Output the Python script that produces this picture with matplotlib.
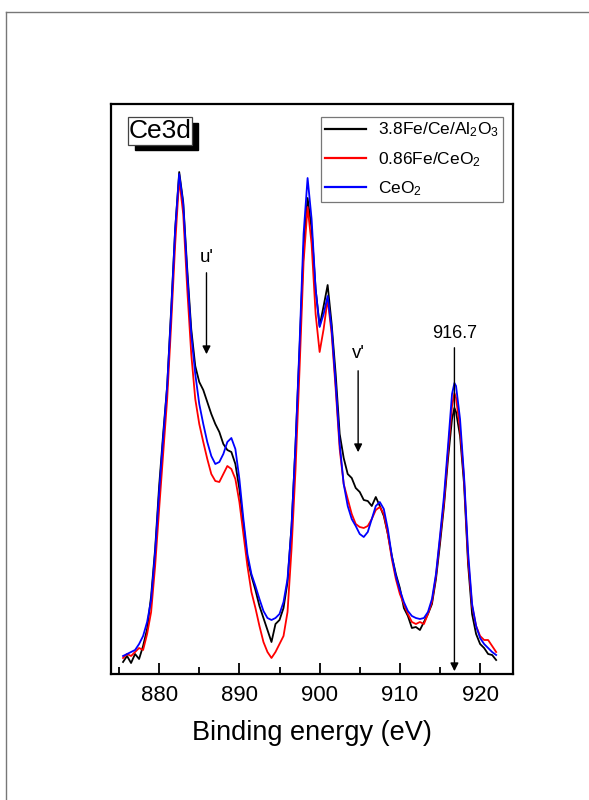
import matplotlib
matplotlib.use("Agg")
import matplotlib.pyplot as plt
from matplotlib.patches import Rectangle
from matplotlib.lines import Line2D

plt.rcParams['font.family'] = ['Liberation Sans', 'DejaVu Sans']
plt.rcParams['mathtext.fontset'] = 'custom'
plt.rcParams['mathtext.rm'] = 'Liberation Sans'
plt.rcParams['mathtext.it'] = 'Liberation Sans'

# ---------------- data ----------------
energy = [875.5, 876.0, 876.5, 877.0, 877.5, 878.0, 878.5, 879.0, 879.5, 880.0,
          880.5, 881.0, 881.5, 882.0, 882.5, 883.0, 883.5, 884.0, 884.5, 885.0,
          885.5, 886.0, 886.5, 887.0, 887.5, 888.0, 888.5, 889.0, 889.5, 890.0,
          890.5, 891.0, 891.5, 892.0, 892.5, 893.0, 893.5, 894.0, 894.5, 895.0,
          895.5, 896.0, 896.5, 897.0, 897.5, 898.0, 898.5, 899.0, 899.5, 900.0,
          900.5, 901.0, 901.5, 902.0, 902.5, 903.0, 903.5, 904.0, 904.5, 905.0,
          905.5, 906.0, 906.5, 907.0, 907.5, 908.0, 908.5, 909.0, 909.5, 910.0,
          910.5, 911.0, 911.5, 912.0, 912.5, 913.0, 913.5, 914.0, 914.5, 915.0,
          915.5, 916.0, 916.5, 916.8, 917.0, 917.5, 918.0, 918.5, 919.0, 919.5,
          920.0, 920.5, 921.0, 921.5, 922.0]

fe_ce_al2o3 = [12, 18, 11, 20, 15, 28, 45, 78, 125, 188,
               240, 288, 365, 445, 502, 472, 405, 345, 308, 292,
               284, 272, 260, 250, 242, 230, 224, 222, 210, 185,
               150, 115, 98, 84, 68, 56, 44, 32, 50, 54,
               66, 92, 148, 230, 325, 425, 476, 445, 385, 348,
               368, 389, 350, 300, 240, 216, 200, 196, 186, 182,
               174, 173, 168, 177, 168, 158, 140, 118, 100, 86,
               66, 58, 46, 47, 44, 52, 60, 70, 95, 130,
               168, 215, 255, 266, 262, 238, 190, 110, 60, 40,
               30, 26, 20, 19, 14]

fe_ceo2 = [16, 20, 18, 22, 26, 24, 40, 62, 108, 165,
           220, 275, 350, 430, 495, 460, 385, 320, 275, 250,
           232, 215, 200, 193, 192, 200, 208, 205, 195, 172,
           140, 108, 82, 66, 48, 32, 22, 16, 22, 30,
           38, 62, 125, 205, 305, 412, 467, 430, 360, 322,
           345, 375, 340, 285, 225, 190, 175, 160, 150, 147,
           146, 148, 155, 164, 167, 160, 140, 115, 95, 80,
           70, 60, 52, 50, 52, 50, 60, 72, 98, 135,
           172, 222, 268, 281, 276, 245, 195, 115, 68, 48,
           38, 34, 34, 28, 22]

ceo2 = [18, 20, 22, 24, 30, 38, 52, 74, 122, 182,
        236, 288, 362, 445, 500, 470, 400, 340, 300, 270,
        250, 232, 218, 210, 212, 220, 232, 236, 225, 195,
        155, 120, 100, 88, 75, 63, 56, 54, 56, 60,
        72, 95, 147, 230, 330, 440, 496, 455, 385, 347,
        360, 378, 345, 290, 230, 190, 168, 155, 148, 140,
        137, 142, 155, 168, 172, 165, 145, 118, 98, 84,
        72, 63, 58, 56, 55, 56, 62, 75, 100, 138,
        178, 228, 280, 291, 288, 255, 198, 122, 70, 48,
        36, 30, 26, 22, 19]

series_labels = ['3.8Fe/Ce/Al$_2$O$_3$', '0.86Fe/CeO$_2$', 'CeO$_2$']
series_colors = ['black', 'red', 'blue']
xticks = [880, 890, 900, 910, 920]

# ---------------- figure ----------------
fig = plt.figure(figsize=(5.89, 8.0), dpi=100)
fig.patch.set_facecolor('white')

# outer page frame
fig.add_artist(Line2D([6/589, 1.0], [1-12/800, 1-12/800], color='#777777', lw=1.0))
fig.add_artist(Line2D([6/589, 6/589], [1-12/800, 0.0], color='#777777', lw=1.0))

ax = fig.add_axes([111/589, 1-674/800, 402/589, 570/800])

for y, c, lab in zip([fe_ce_al2o3, fe_ceo2, ceo2], series_colors, series_labels):
    ax.plot(energy, y, color=c, lw=1.3, label=lab)

ax.set_xlim(874.0, 924.1)
ax.set_ylim(0, 570)
ax.set_xticks(xticks)
ax.set_xticks([875, 885, 895, 905, 915], minor=True)
ax.set_yticks([])
ax.tick_params(axis='x', which='major', direction='in', length=8, width=1.3,
               labelsize=16, pad=8, top=False)
ax.tick_params(axis='x', which='minor', direction='in', length=5, width=1.3, top=False)
for s in ax.spines.values():
    s.set_linewidth(1.6)
ax.set_xlabel('Binding energy (eV)', fontsize=19.5, labelpad=10)

# legend
leg = ax.legend(loc='upper right', bbox_to_anchor=(0.975, 0.977), fontsize=12.5,
                frameon=True, fancybox=False, edgecolor='#555555',
                handlelength=2.4, handletextpad=0.7, borderpad=0.2,
                labelspacing=0.62, borderaxespad=0)
leg.get_frame().set_linewidth(0.9)
for h in leg.get_lines():
    h.set_linewidth(1.6)

# Ce3d label box with shadow
ax.add_patch(Rectangle((0.0597, 0.919), 0.1575, 0.0468, transform=ax.transAxes,
                       facecolor='black', edgecolor='black', zorder=5))
ax.add_patch(Rectangle((0.0415, 0.928), 0.1607, 0.0496, transform=ax.transAxes,
                       facecolor='white', edgecolor='#444444', lw=0.9, zorder=6))
ax.text(0.122, 0.953, 'Ce3d', transform=ax.transAxes, fontsize=19,
        ha='center', va='center', zorder=7)

# annotations
arrow = dict(arrowstyle='-|>', color='black', lw=1.0, mutation_scale=12)
ax.annotate('', xy=(885.9, 317), xytext=(885.9, 404), arrowprops=arrow)
ax.text(885.9, 417, "u'", fontsize=13.5, ha='center', va='center')
ax.annotate('', xy=(904.8, 219), xytext=(904.8, 306), arrowprops=arrow)
ax.text(904.8, 321, "v'", fontsize=13.5, ha='center', va='center')
ax.annotate('', xy=(916.8, 0), xytext=(916.8, 329), arrowprops=arrow)
ax.text(916.8, 341, '916.7', fontsize=13, ha='center', va='center')

fig.savefig('out.png', dpi=100)
